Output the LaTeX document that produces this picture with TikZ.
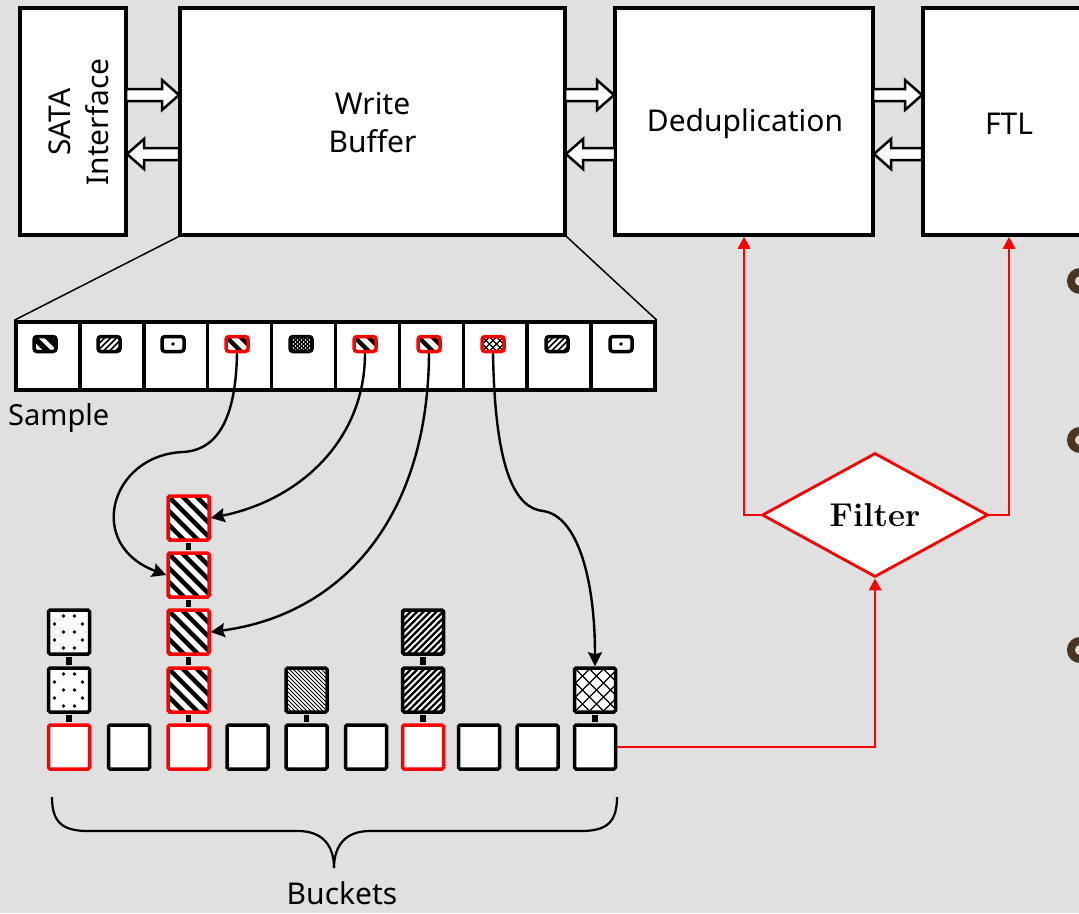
\documentclass[tikz,border=0pt]{standalone}
\usepackage{fontspec}
\newfontfamily\lblfont{Noto Sans}
\usetikzlibrary{shapes.geometric,arrows.meta}
\definecolor{bg}{RGB}{224,224,224}
\definecolor{bulletc}{RGB}{74,52,35}
\definecolor{myred}{RGB}{255,0,0}
\tikzset{
  hatchA/.style 2 args={path picture={\foreach \k in {0,...,50}{\draw[draw=black,line width=#2] ([xshift=\k*#1-70pt]path picture bounding box.north west) -- ++(90pt,-90pt);}}},
  whiteA/.style 2 args={path picture={\fill[black] (path picture bounding box.south west) rectangle (path picture bounding box.north east);\foreach \k in {0,...,50}{\draw[draw=white,line width=#2] ([xshift=\k*#1-64pt]path picture bounding box.north west) -- ++(90pt,-90pt);}}},
  whiteB/.style 2 args={path picture={\fill[black] (path picture bounding box.south west) rectangle (path picture bounding box.north east);\foreach \k in {0,...,50}{\draw[draw=white,line width=#2] ([xshift=\k*#1-70pt]path picture bounding box.south west) -- ++(90pt,90pt);}}},
  crossh/.style 2 args={path picture={\foreach \k in {0,...,50}{\draw[draw=black,line width=#2] ([xshift=\k*#1-70pt]path picture bounding box.north west) -- ++(90pt,-90pt);\draw[draw=black,line width=#2] ([xshift=\k*#1-70pt]path picture bounding box.south west) -- ++(90pt,90pt);}}},
  dotc/.style={path picture={\fill[black] (path picture bounding box.center) circle (1.8pt);}},
  dotsq/.style={path picture={\foreach \p/\q in {15/6,26/6,6/14,34/14,15/22,26/22,6/30,34/30,15/38,26/38}{\fill[black] ([xshift=\p pt,yshift=-\q pt]path picture bounding box.north west) circle (1.8pt);}}},
  pics/rblk/.style={code={\draw[draw=black,line width=2.5pt,fill=white,line join=miter] (0,-6) -- ({#1-17},-6) -- ({#1-17},-15) -- (#1,0) -- ({#1-17},15) -- ({#1-17},6) -- (0,6) -- cycle;}},
  pics/lblk/.style={code={\draw[draw=black,line width=2.5pt,fill=white,line join=miter] (0,0) -- (17,-15) -- (17,-6) -- (#1,-6) -- (#1,6) -- (17,6) -- (17,15) -- cycle;}}
}
\begin{document}
\begin{tikzpicture}[x=1pt,y=-1pt,
  box/.style={draw, line width=3.5pt, fill=white, inner sep=0pt},
  lbl/.style={font=\lblfont\fontsize{30}{38}\selectfont, align=center, inner sep=0pt},
  cell/.style={draw, line width=3.5pt, fill=white, minimum width=64pt, minimum height=68pt, inner sep=0pt},
  icon/.style={draw, line width=3.5pt, fill=white, minimum width=22pt, minimum height=15pt, inner sep=0pt, rounded corners=3pt},
  redicon/.style={icon, draw=myred},
  sq/.style={draw, line width=3.5pt, fill=white, minimum width=41pt, minimum height=44pt, inner sep=0pt, rounded corners=1.5pt},
  redsq/.style={sq, draw=myred},
  link/.style={line width=5.5pt, shorten >=1.7pt, shorten <=1.7pt},
  curve/.style={line width=2.4pt, -{Stealth[length=14pt,width=14pt,inset=2pt]}},
  redline/.style={draw=myred, line width=2.8pt, -{Triangle[length=12pt,width=12pt]}},
  bul/.style={circle, draw=bulletc, line width=8pt, minimum size=18pt, inner sep=0pt}
]
\useasboundingbox (0,0) rectangle (1079,913);
\fill[bg] (0,0) rectangle (1079,913);

% top boxes
\node[box, minimum width=106pt, minimum height=227pt] (sata) at (73,121.5) {};
\node[lbl, rotate=90] (satatxt) at (79,122) {SATA\\Interface};
\node[box, minimum width=385pt, minimum height=227pt] (wb) at (372.5,121.5) {};
\node[lbl] (wbtxt) at (372.5,123) {Write\\Buffer};
\node[box, minimum width=258pt, minimum height=227pt] (dedup) at (744,121.5) {};
\node[lbl] (deduptxt) at (745,124) {Deduplication};
\node[box, minimum width=172pt, minimum height=227pt] (ftl) at (1009,121.5) {};
\node[lbl] (ftltxt) at (1009,124) {FTL};

% block arrows
\pic at (126,95) {rblk=53};
\pic at (127,154) {lblk=52};
\pic at (565,95) {rblk=49};
\pic at (566,154) {lblk=49};
\pic at (873,95) {rblk=49};
\pic at (874,154) {lblk=48};

% sample row
\foreach \i in {1,...,10}{
  \node[cell] (c\i) at ({48+63.9*(\i-1)},356) {};
}
\draw[line width=1.5pt] (wb.south west) -- (c1.north west);
\draw[line width=1.5pt] (wb.south east) -- (c10.north east);
\node[icon, whiteA={14pt}{4pt}] (s1) at (45,344) {};
\node[icon, whiteB={6pt}{2.2pt}] (s2) at (109,344) {};
\node[icon, dotc] (s3) at (173,344) {};
\node[redicon, hatchA={14pt}{4.5pt}] (s4) at (237,344) {};
\node[icon, crossh={4pt}{1.2pt}] (s5) at (301,344) {};
\node[redicon, hatchA={14pt}{4.5pt}] (s6) at (365,344) {};
\node[redicon, hatchA={14pt}{4.5pt}] (s7) at (429,344) {};
\node[redicon, crossh={7pt}{1.2pt}] (s8) at (493,344) {};
\node[icon, whiteB={6pt}{2.2pt}] (s9) at (557,344) {};
\node[icon, dotc] (s10) at (621,344) {};
\node[lbl, anchor=west, font=\lblfont\fontsize{29}{37}\selectfont] (sample) at (8,418) {Sample};

% buckets
\node[redsq] (b1) at (69,747) {};
\node[sq] (b2) at (129,747) {};
\node[redsq] (b3) at (188.5,747) {};
\node[sq] (b4) at (247.5,747) {};
\node[sq] (b5) at (306.5,747) {};
\node[sq] (b6) at (366,747) {};
\node[redsq] (b7) at (423,747) {};
\node[sq] (b8) at (479,747) {};
\node[sq] (b9) at (537.5,747) {};
\node[sq] (b10) at (595,747) {};

\node[sq, dotsq] (b1l1) at (69,690) {};
\node[sq, dotsq] (b1l2) at (69,632) {};
\node[redsq, hatchA={14pt}{4.5pt}] (b3l1) at (188.5,690) {};
\node[redsq, hatchA={14pt}{4.5pt}] (b3l2) at (188.5,632) {};
\node[redsq, hatchA={14pt}{4.5pt}] (b3l3) at (188.5,575) {};
\node[redsq, hatchA={14pt}{4.5pt}] (b3l4) at (188.5,518) {};
\node[sq, hatchA={4pt}{1pt}] (b5l1) at (306.5,690) {};
\node[sq, whiteB={6.5pt}{1.9pt}] (b7l1) at (423,690) {};
\node[sq, whiteB={6.5pt}{1.9pt}] (b7l2) at (423,632) {};
\node[sq, crossh={14pt}{1.2pt}] (b10l1) at (595,690) {};

\draw[link] (b1.north) -- (b1l1.south);
\draw[link] (b1l1.north) -- (b1l2.south);
\draw[link] (b3.north) -- (b3l1.south);
\draw[link] (b3l1.north) -- (b3l2.south);
\draw[link] (b3l2.north) -- (b3l3.south);
\draw[link] (b3l3.north) -- (b3l4.south);
\draw[link] (b5.north) -- (b5l1.south);
\draw[link] (b7.north) -- (b7l1.south);
\draw[link] (b7l1.north) -- (b7l2.south);
\draw[link] (b10.north) -- (b10l1.south);

% curved arrows
\draw[curve] (s4.south) .. controls (236,410) and (222,450) .. (183,452) .. controls (110,455) and (85,545) .. (b3l3.west);
\draw[curve] (s6.south) .. controls (365,440) and (300,500) .. (b3l4.east);
\draw[curve] (s7.south) .. controls (428,520) and (340,615) .. (b3l2.east);
\draw[curve] (s8.south) .. controls (495,470) and (515,508) .. (543,511) .. controls (578,516) and (595,580) .. (b10l1.north);

% brace
\draw[line width=2.2pt] (52,797) .. controls (52,822) and (62,831) .. (88,831) -- (298,831) .. controls (322,831) and (334,845) .. (334,868);
\draw[line width=2.2pt] (617,797) .. controls (617,822) and (607,831) .. (581,831) -- (370,831) .. controls (346,831) and (334,845) .. (334,868);
\node[lbl] (buckets) at (342,893) {Buckets};

% filter
\node[diamond, draw=myred, line width=2.8pt, fill=white, minimum width=226pt, minimum height=124pt, inner sep=0pt, aspect=1.8, font=\bfseries\fontsize{33}{38}\selectfont] (filter) at (875,515) {Filter};
\draw[redline] (filter.west) -| (dedup.south);
\draw[redline] (filter.east) -| (ftl.south);
\draw[redline] (b10.east) -| (filter.south);

% bullets at right edge
\node[bul] (bul1) at (1080,281) {};
\node[bul] (bul2) at (1080,440) {};
\node[bul] (bul3) at (1080,650) {};
\end{tikzpicture}
\end{document}
